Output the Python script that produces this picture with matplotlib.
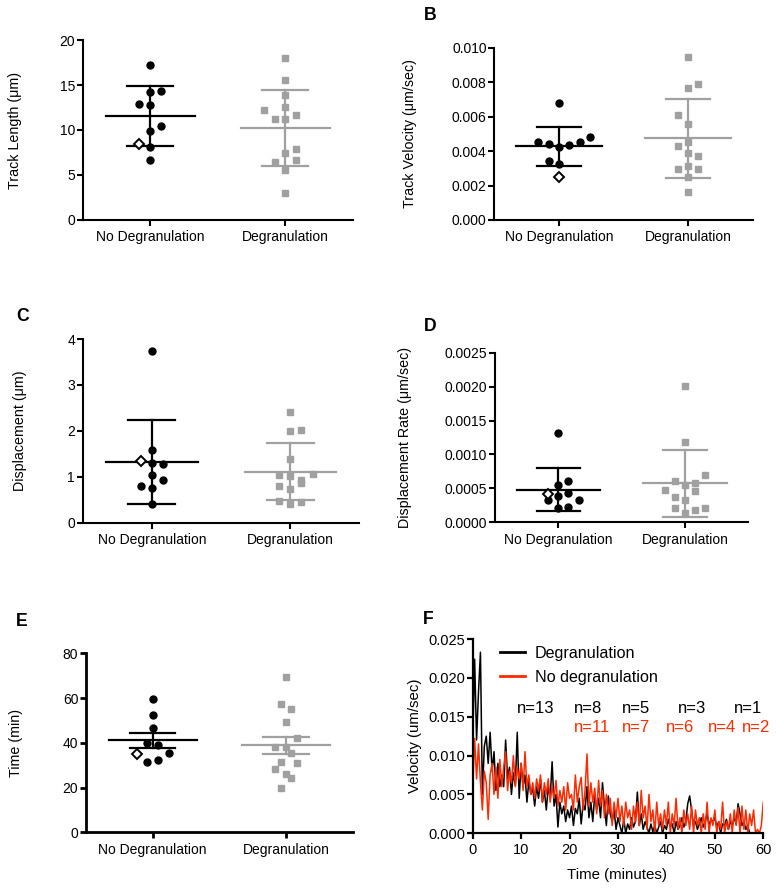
import matplotlib

matplotlib.use("Agg")
import matplotlib.pyplot as plt
import numpy as np
from matplotlib.ticker import FormatStrFormatter, MultipleLocator

plt.rcParams["font.family"] = ["Liberation Sans", "DejaVu Sans"]

GROUPS = ["No Degranulation", "Degranulation"]
BLACK = "black"
GRAY = "#a0a0a0"
RED = "#ff2a00"

# ---- A: track length (um) ----
length_nodeg = [17.2, 14.26, 14.33, 12.85, 12.78, 10.4, 9.93, 8.11, 6.67]
length_nodeg_jit = [0, 0, 0.08, -0.08, 0, 0.08, 0, 0, 0]
length_nodeg_open = [8.44]
length_nodeg_open_jit = [-0.08]
length_deg = [18.0, 15.6, 13.93, 12.26, 12.52, 11.22, 11.22, 11.7, 7.93, 7.41,
              6.7, 6.48, 5.56, 3.04]
length_deg_jit = [0, 0, 0, -0.16, 0, -0.08, 0, 0.08, 0.08, 0, 0.08, -0.08, 0, 0]
length_stats = [(11.55, 8.2, 14.85), (10.27, 6.05, 14.48)]  # mean, low, high

# ---- B: track velocity (um/sec) ----
velo_nodeg = [0.00679, 0.00453, 0.00441, 0.00426, 0.00435, 0.00453, 0.00482,
              0.00342, 0.00325]
velo_nodeg_jit = [0, -0.16, -0.08, 0, 0.08, 0.16, 0.24, -0.08, 0]
velo_nodeg_open = [0.00251]
velo_nodeg_open_jit = [0]
velo_deg = [0.00948, 0.00787, 0.00764, 0.00609, 0.00555, 0.00451, 0.00429,
            0.00387, 0.00369, 0.00298, 0.00311, 0.00298, 0.00248, 0.00162]
velo_deg_jit = [0, 0.08, 0, -0.08, 0, 0, -0.08, 0, 0.08, -0.08, 0, 0.08, 0, 0]
velo_stats = [(0.00429, 0.00315, 0.00542), (0.00476, 0.00242, 0.00702)]

# ---- C: displacement (um) ----
disp_nodeg = [3.73, 1.575, 1.30, 1.28, 1.045, 0.93, 0.806, 0.748, 0.40]
disp_nodeg_jit = [0, 0, 0, 0.08, 0, 0.08, -0.08, 0, 0]
disp_nodeg_open = [1.336]
disp_nodeg_open_jit = [-0.08]
disp_deg = [2.40, 2.00, 2.02, 1.38, 1.045, 1.016, 1.07, 0.93, 0.87, 0.806,
            0.726, 0.465, 0.45, 0.407]
disp_deg_jit = [0, 0, 0.08, 0, -0.08, 0, 0.165, 0.08, 0.08, -0.08, 0, -0.08,
                0.08, 0]
disp_stats = [(1.314, 0.40, 2.236), (1.111, 0.494, 1.742)]

# ---- D: displacement rate (um/sec) ----
rate_nodeg = [0.001321, 0.000609, 0.000550, 0.000437, 0.000383, 0.000324,
              0.000334, 0.000206, 0.000231]
rate_nodeg_jit = [0, 0.08, 0, 0.08, 0, -0.08, 0.16, 0, 0.08]
rate_nodeg_open = [0.000413]
rate_nodeg_open_jit = [-0.08]
rate_deg = [0.002014, 0.001179, 0.000697, 0.000604, 0.000545, 0.000575,
            0.000481, 0.000457, 0.000373, 0.000334, 0.000206, 0.000216,
            0.000182, 0.000133]
rate_deg_jit = [0, 0, 0.16, -0.08, 0, 0.08, -0.16, 0.08, -0.08, 0, -0.08, 0.16,
                0.08, 0]
rate_stats = [(0.000476, 0.000162, 0.000800), (0.000575, 0.000074, 0.001066)]

# ---- E: time (min), mean +/- SEM ----
time_nodeg = [59.4, 52.3, 46.5, 39.8, 39.0, 35.3, 31.3, 32.3]
time_nodeg_jit = [0, 0, 0, -0.04, 0.04, 0.12, -0.04, 0.04]
time_nodeg_open = [35.0]
time_nodeg_open_jit = [-0.12]
time_deg = [69.3, 57.3, 55.0, 49.2, 42.3, 38.0, 38.0, 35.3, 31.4, 30.8, 28.2,
            26.1, 24.4, 19.9]
time_deg_jit = [0, -0.04, 0.04, 0, 0.08, -0.08, 0, 0.04, -0.04, 0.08, -0.08, 0,
                0.04, -0.04]
time_stats = [(41.1, 37.8, 44.5), (38.9, 35.0, 42.6)]

# ---- F: velocity over time (um/sec), sampled every 0.4 min ----
STEP_MIN = 0.4
vel_deg_trace = [
    0.0120, 0.0224, 0.0120, 0.0182, 0.0233, 0.0050, 0.0112, 0.0125, 0.0090, 0.0130,
    0.0080, 0.0105, 0.0055, 0.0090, 0.0060, 0.0075, 0.0060, 0.0120, 0.0070, 0.0085,
    0.0050, 0.0078, 0.0062, 0.0130, 0.0045, 0.0090, 0.0060, 0.0075, 0.0040, 0.0068,
    0.0050, 0.0058, 0.0035, 0.0060, 0.0045, 0.0070, 0.0040, 0.0055, 0.0030, 0.0060,
    0.0045, 0.0092, 0.0035, 0.0050, 0.0008, 0.0040, 0.0025, 0.0035, 0.0015, 0.0030,
    0.0020, 0.0035, 0.0010, 0.0032, 0.0025, 0.0045, 0.0012, 0.0038, 0.0030, 0.0060,
    0.0020, 0.0040, 0.0015, 0.0050, 0.0030, 0.0045, 0.0020, 0.0065, 0.0035, 0.0010,
    0.0048, 0.0025, 0.0015, 0.0030, 0.0005, 0.0020, 0.0010, 0.0000, 0.0018, 0.0000,
    0.0012, 0.0005, 0.0020, 0.0008, 0.0015, 0.0053, 0.0010, 0.0025, 0.0005, 0.0015,
    0.0008, 0.0000, 0.0012, 0.0002, 0.0010, 0.0000, 0.0008, 0.0015, 0.0000, 0.0010,
    0.0005, 0.0018, 0.0008, 0.0012, 0.0000, 0.0015, 0.0005, 0.0010, 0.0020, 0.0008,
    0.0015, 0.0038, 0.0048, 0.0030, 0.0010, 0.0015, 0.0005, 0.0012, 0.0020, 0.0008,
    0.0015, 0.0025, 0.0010, 0.0018, 0.0015, 0.0020, 0.0008, 0.0015, 0.0000, 0.0012,
    0.0010, 0.0018, 0.0005, 0.0015, 0.0010, 0.0020, 0.0012, 0.0038, 0.0025, 0.0010,
    0.0015, 0.0005, 0.0010, 0.0000,
]
vel_nodeg_trace = [
    0.0060, 0.0122, 0.0070, 0.0115, 0.0065, 0.0030, 0.0080, 0.0065, 0.0018, 0.0075,
    0.0090, 0.0050, 0.0085, 0.0045, 0.0095, 0.0060, 0.0085, 0.0105, 0.0055, 0.0080,
    0.0065, 0.0100, 0.0060, 0.0085, 0.0070, 0.0090, 0.0055, 0.0105, 0.0060, 0.0075,
    0.0050, 0.0065, 0.0045, 0.0070, 0.0055, 0.0075, 0.0040, 0.0065, 0.0050, 0.0070,
    0.0040, 0.0060, 0.0045, 0.0068, 0.0035, 0.0055, 0.0040, 0.0060, 0.0030, 0.0065,
    0.0045, 0.0050, 0.0030, 0.0075, 0.0040, 0.0060, 0.0072, 0.0030, 0.0055, 0.0102,
    0.0035, 0.0065, 0.0040, 0.0058, 0.0025, 0.0068, 0.0035, 0.0055, 0.0020, 0.0050,
    0.0025, 0.0045, 0.0010, 0.0040, 0.0020, 0.0045, 0.0015, 0.0035, 0.0010, 0.0040,
    0.0020, 0.0030, 0.0005, 0.0035, 0.0015, 0.0040, 0.0010, 0.0055, 0.0020, 0.0035,
    0.0005, 0.0050, 0.0015, 0.0030, 0.0000, 0.0040, 0.0010, 0.0025, 0.0005, 0.0030,
    0.0010, 0.0040, 0.0000, 0.0025, 0.0010, 0.0045, 0.0005, 0.0020, 0.0000, 0.0030,
    0.0010, 0.0025, 0.0005, 0.0035, 0.0000, 0.0030, 0.0010, 0.0020, 0.0000, 0.0025,
    0.0005, 0.0040, 0.0000, 0.0020, 0.0010, 0.0030, 0.0000, 0.0015, 0.0005, 0.0040,
    0.0000, 0.0015, 0.0005, 0.0025, 0.0000, 0.0030, 0.0010, 0.0033, 0.0000, 0.0035,
    0.0005, 0.0030, 0.0000, 0.0025, 0.0010, 0.0030, 0.0000, 0.0005, 0.0000, 0.0010,
    0.0040,
]
n_deg_labels = ["n=13", "n=8", "n=5", "n=3", "n=1"]
n_deg_at = [13.1, 23.9, 33.7, 45.2, 56.9]
n_nodeg_labels = ["n=11", "n=7", "n=6", "n=4", "n=2"]
n_nodeg_at = [24.6, 33.7, 42.8, 51.4, 58.5]


def style_axes(ax, spine_lw=1.5):
    for side in ("top", "right"):
        ax.spines[side].set_visible(False)
    for side in ("left", "bottom"):
        ax.spines[side].set_linewidth(spine_lw)
    ax.tick_params(direction="out", length=4, width=spine_lw, labelsize=10,
                   pad=1.5)


def dot_panel(ax, groups, stats, ylim, step, fmt, ylabel, label_x,
              spine_lw=1.5):
    (black_y, black_j, open_y, open_j), (gray_y, gray_j) = groups
    for i, (mean, low, high) in enumerate(stats):
        col = BLACK if i == 0 else GRAY
        ax.plot([i - 0.33, i + 0.33], [mean, mean], color=col, lw=1.6, zorder=2)
        ax.plot([i - 0.17, i + 0.17], [low, low], color=col, lw=1.6, zorder=2)
        ax.plot([i - 0.17, i + 0.17], [high, high], color=col, lw=1.6, zorder=2)
        ax.plot([i, i], [low, high], color=col, lw=1.6, zorder=2)
    ax.plot(np.array(black_j), black_y, "o", color=BLACK, ms=5, zorder=3)
    ax.plot(np.array(open_j), open_y, "D", mfc="white", mec=BLACK, mew=1.4,
            ms=5.2, zorder=3)
    ax.plot(1 + np.array(gray_j), gray_y, "s", color=GRAY, ms=4.4, zorder=3)

    ax.set_xlim(-0.5, 1.5)
    ax.set_ylim(*ylim)
    ax.yaxis.set_major_locator(MultipleLocator(step))
    ax.yaxis.set_major_formatter(FormatStrFormatter(fmt))
    ax.set_xticks([0, 1])
    ax.set_xticklabels(GROUPS, fontsize=9.6)
    style_axes(ax, spine_lw)
    ax.tick_params(axis="x", pad=3.5)
    ax.set_ylabel(ylabel, fontsize=10.3, va="center")
    ax.yaxis.set_label_coords(label_x, 0.5)


fig = plt.figure(figsize=(7.79, 8.91), dpi=100)

ax_a = fig.add_axes([0.1062, 0.7531, 0.3469, 0.2020])
dot_panel(ax_a, ((length_nodeg, length_nodeg_jit, length_nodeg_open,
                  length_nodeg_open_jit), (length_deg, length_deg_jit)),
          length_stats, (0, 20), 5, "%d", "Track Length (\u03bcm)", -0.25)

ax_b = fig.add_axes([0.6345, 0.7531, 0.3317, 0.1934])
dot_panel(ax_b, ((velo_nodeg, velo_nodeg_jit, velo_nodeg_open,
                  velo_nodeg_open_jit), (velo_deg, velo_deg_jit)),
          velo_stats, (0, 0.010), 0.002, "%.3f",
          "Track Velocity (\u03bcm/sec)", -0.326)

ax_c = fig.add_axes([0.1062, 0.4134, 0.3551, 0.2061])
dot_panel(ax_c, ((disp_nodeg, disp_nodeg_jit, disp_nodeg_open,
                  disp_nodeg_open_jit), (disp_deg, disp_deg_jit)),
          disp_stats, (0, 4), 1, "%d", "Displacement (\u03bcm)", -0.227)

ax_d = fig.add_axes([0.6354, 0.4138, 0.3252, 0.1904])
dot_panel(ax_d, ((rate_nodeg, rate_nodeg_jit, rate_nodeg_open,
                  rate_nodeg_open_jit), (rate_deg, rate_deg_jit)),
          rate_stats, (0, 0.0025), 0.0005, "%.4f",
          "Displacement Rate (\u03bcm/sec)", -0.355)

ax_e = fig.add_axes([0.1104, 0.0659, 0.3424, 0.2009])
dot_panel(ax_e, ((time_nodeg, time_nodeg_jit, time_nodeg_open,
                  time_nodeg_open_jit), (time_deg, time_deg_jit)),
          time_stats, (0, 80), 20, "%d", "Time (min)", -0.264, spine_lw=2.0)

# F: time course
ax_f = fig.add_axes([0.6068, 0.0648, 0.3730, 0.2180])
t_deg = np.arange(len(vel_deg_trace)) * STEP_MIN
t_nodeg = np.arange(len(vel_nodeg_trace)) * STEP_MIN
ax_f.plot(t_deg, vel_deg_trace, color=BLACK, lw=1.1, label="Degranulation")
ax_f.plot(t_nodeg, vel_nodeg_trace, color=RED, lw=1.1,
          label="No degranulation")
ax_f.set_xlim(0, 60)
ax_f.set_ylim(0, 0.025)
ax_f.xaxis.set_major_locator(MultipleLocator(10))
ax_f.yaxis.set_major_locator(MultipleLocator(0.005))
ax_f.yaxis.set_major_formatter(FormatStrFormatter("%.3f"))
style_axes(ax_f, 1.6)
ax_f.tick_params(labelsize=10.5)
ax_f.tick_params(axis="x", pad=3)
ax_f.set_ylabel("Velocity (um/sec)", fontsize=10.8, va="center")
ax_f.yaxis.set_label_coords(-0.199, 0.5)
ax_f.set_xlabel("Time (minutes)", fontsize=10.8, va="center")
ax_f.xaxis.set_label_coords(0.496, -0.215)
leg = ax_f.legend(loc="upper left", bbox_to_anchor=(0.094, 0.964),
                  frameon=False, fontsize=11.6, handlelength=1.55,
                  handletextpad=0.6, labelspacing=0.55, borderpad=0,
                  borderaxespad=0)
for line in leg.get_lines():
    line.set_linewidth(2)
for lab, x in zip(n_deg_labels, n_deg_at):
    ax_f.text(x, 0.0161, lab, color=BLACK, fontsize=12, ha="center",
              va="center")
for lab, x in zip(n_nodeg_labels, n_nodeg_at):
    ax_f.text(x, 0.0136, lab, color=RED, fontsize=12, ha="center",
              va="center")

# panel letters
for letter, (px, py) in {"B": (430, 15), "C": (22.7, 316.7),
                         "D": (430, 326.7), "E": (21.7, 621.7),
                         "F": (428, 620)}.items():
    fig.text(px / 779, 1 - py / 891, letter, fontsize=12.7, fontweight="bold",
             ha="center", va="center")

fig.savefig("out.png", dpi=100)
